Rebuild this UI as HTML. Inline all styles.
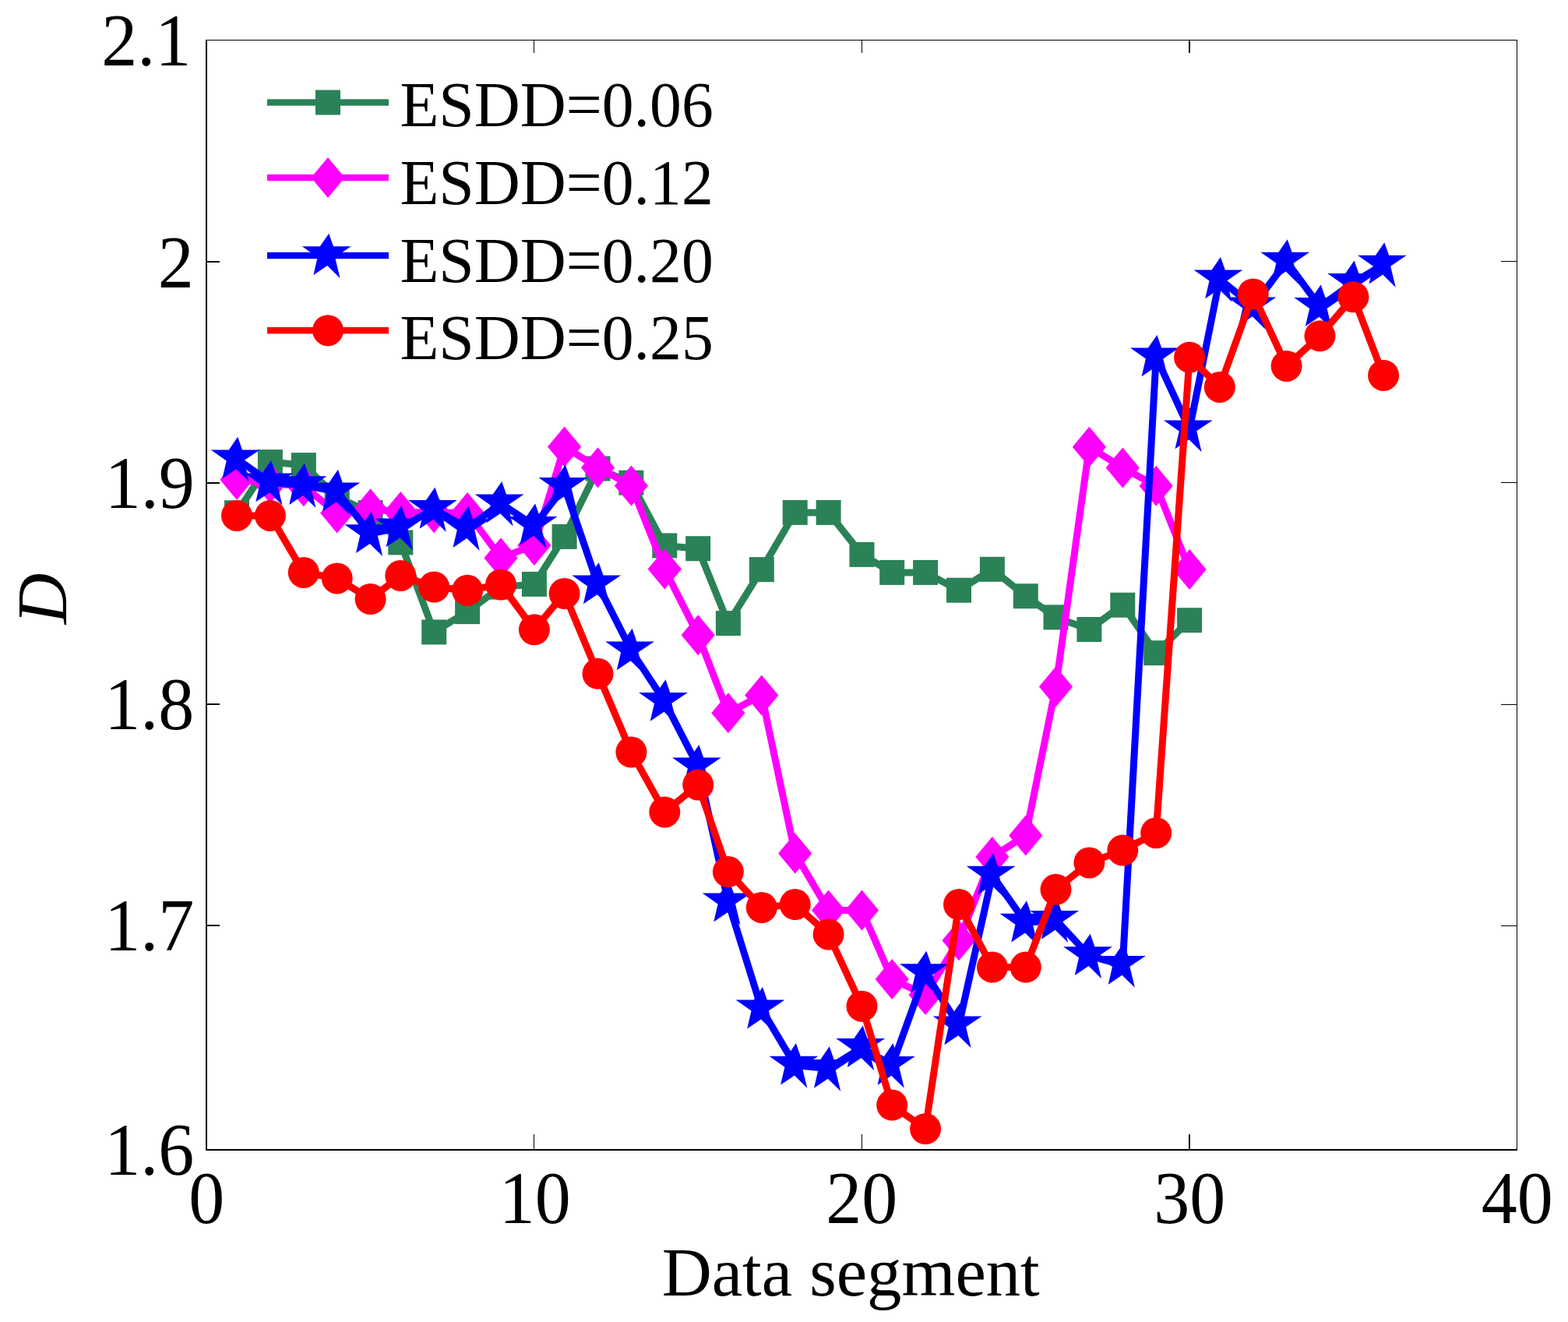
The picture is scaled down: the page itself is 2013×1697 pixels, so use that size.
<!DOCTYPE html>
<html lang="en"><head><meta charset="utf-8"><title>D versus data segment</title>
<style>html,body{margin:0;padding:0;background:#fff}body{width:2013px;height:1697px;overflow:hidden}svg{display:block}text{font-family:"Liberation Serif",serif;fill:#000}</style>
</head><body>
<svg width="2013" height="1697" viewBox="0 0 2013 1697">
<rect x="0" y="0" width="2013" height="1697" fill="#fff"/>
<g fill="#000" shape-rendering="crispEdges">
<rect x="264" y="51" width="2" height="1426"/>
<rect x="264" y="1475" width="1684" height="2"/>
<rect x="264" y="51" width="1684" height="1"/>
<rect x="1947" y="51" width="1" height="1426"/>
<rect x="266" y="335" width="16" height="2"/>
<rect x="1927" y="335" width="20" height="1"/>
<rect x="266" y="619" width="16" height="2"/>
<rect x="1927" y="619" width="20" height="1"/>
<rect x="266" y="903" width="16" height="2"/>
<rect x="1927" y="904" width="20" height="1"/>
<rect x="266" y="1187" width="16" height="2"/>
<rect x="1927" y="1188" width="20" height="1"/>
<rect x="685" y="1456" width="1" height="19"/>
<rect x="685" y="52" width="1" height="16"/>
<rect x="1106" y="1456" width="1" height="19"/>
<rect x="1106" y="52" width="1" height="16"/>
<rect x="1526" y="1456" width="2" height="19"/>
<rect x="1526" y="52" width="2" height="16"/>
</g>
<g font-size="92" text-anchor="end">
<text transform="translate(245.3,83.8) scale(1,1.028)">2.1</text>
<text transform="translate(248.8,368.6) scale(1,1.028)">2</text>
<text transform="translate(249.8,652.4) scale(1,1.028)">1.9</text>
<text transform="translate(249.3,936.1) scale(1,1.028)">1.8</text>
<text transform="translate(249.3,1220.1) scale(1,1.028)">1.7</text>
<text transform="translate(249.3,1508) scale(1,1.028)">1.6</text>
</g>
<g font-size="92" text-anchor="middle">
<text transform="translate(265.3,1570.2) scale(1,1.028)">0</text>
<text transform="translate(686.8,1570.2) scale(1,1.028)">10</text>
<text transform="translate(1106.3,1570.2) scale(1,1.028)">20</text>
<text transform="translate(1527.3,1570.2) scale(1,1.028)">30</text>
<text transform="translate(1947.8,1570.2) scale(1,1.028)">40</text>
</g>
<text x="1092.2" y="1663" font-size="88.7" text-anchor="middle">Data segment</text>
<text transform="translate(85.4,768.4) rotate(-90)" font-size="91" font-style="italic" text-anchor="middle">D</text>
<g>
<polyline fill="none" stroke="#2b8257" stroke-width="9" stroke-linejoin="miter" points="304,658.2 346.9,593.1 389.8,597.1 432.7,638 475.6,658.1 514.3,696.4 557.2,811.4 600.1,785.1 643,753.6 685.9,749.9 724.6,688.9 767.5,601.5 810.4,619.7 853.3,700.4 896.2,704.2 934.9,800.1 977.8,731.1 1020.7,657.9 1063.6,657.9 1106.5,711.9 1145.2,734.9 1188.1,734.9 1231,757.7 1273.9,730.8 1316.8,765.2 1355.5,792.4 1398.4,808 1441.3,776.7 1484.2,838.2 1527.1,796.2"/>
<rect x="288" y="642.2" width="32" height="32" fill="#2b8257"/>
<rect x="330.9" y="577.1" width="32" height="32" fill="#2b8257"/>
<rect x="373.8" y="581.1" width="32" height="32" fill="#2b8257"/>
<rect x="416.7" y="622" width="32" height="32" fill="#2b8257"/>
<rect x="459.6" y="642.1" width="32" height="32" fill="#2b8257"/>
<rect x="498.3" y="680.4" width="32" height="32" fill="#2b8257"/>
<rect x="541.2" y="795.4" width="32" height="32" fill="#2b8257"/>
<rect x="584.1" y="769.1" width="32" height="32" fill="#2b8257"/>
<rect x="627" y="737.6" width="32" height="32" fill="#2b8257"/>
<rect x="669.9" y="733.9" width="32" height="32" fill="#2b8257"/>
<rect x="708.6" y="672.9" width="32" height="32" fill="#2b8257"/>
<rect x="751.5" y="585.5" width="32" height="32" fill="#2b8257"/>
<rect x="794.4" y="603.7" width="32" height="32" fill="#2b8257"/>
<rect x="837.3" y="684.4" width="32" height="32" fill="#2b8257"/>
<rect x="880.2" y="688.2" width="32" height="32" fill="#2b8257"/>
<rect x="918.9" y="784.1" width="32" height="32" fill="#2b8257"/>
<rect x="961.8" y="715.1" width="32" height="32" fill="#2b8257"/>
<rect x="1004.7" y="641.9" width="32" height="32" fill="#2b8257"/>
<rect x="1047.6" y="641.9" width="32" height="32" fill="#2b8257"/>
<rect x="1090.5" y="695.9" width="32" height="32" fill="#2b8257"/>
<rect x="1129.2" y="718.9" width="32" height="32" fill="#2b8257"/>
<rect x="1172.1" y="718.9" width="32" height="32" fill="#2b8257"/>
<rect x="1215" y="741.7" width="32" height="32" fill="#2b8257"/>
<rect x="1257.9" y="714.8" width="32" height="32" fill="#2b8257"/>
<rect x="1300.8" y="749.2" width="32" height="32" fill="#2b8257"/>
<rect x="1339.5" y="776.4" width="32" height="32" fill="#2b8257"/>
<rect x="1382.4" y="792" width="32" height="32" fill="#2b8257"/>
<rect x="1425.3" y="760.7" width="32" height="32" fill="#2b8257"/>
<rect x="1468.2" y="822.2" width="32" height="32" fill="#2b8257"/>
<rect x="1511.1" y="780.2" width="32" height="32" fill="#2b8257"/>
</g>
<g>
<polyline fill="none" stroke="#ff00ff" stroke-width="9" stroke-linejoin="miter" points="304,615.8 346.9,620.3 389.8,624.2 432.7,658.5 475.6,653.2 514.3,657.1 557.2,658.2 600.1,657.9 643,716.2 685.9,699.9 724.6,573.5 767.5,600.2 810.4,623.4 853.3,730.6 896.2,815.3 934.9,915.3 977.8,892.4 1020.7,1095.5 1063.6,1168.4 1106.5,1168.4 1145.2,1257 1188.1,1277 1231,1207.2 1273.9,1099.9 1316.8,1072.4 1355.5,881.6 1398.4,573.7 1441.3,600.4 1484.2,623.7 1527.1,731.1"/>
<polygon points="304,589.8 325.6,615.8 304,641.8 282.4,615.8" fill="#ff00ff"/>
<polygon points="346.9,594.3 368.5,620.3 346.9,646.3 325.3,620.3" fill="#ff00ff"/>
<polygon points="389.8,598.2 411.4,624.2 389.8,650.2 368.2,624.2" fill="#ff00ff"/>
<polygon points="432.7,632.5 454.3,658.5 432.7,684.5 411.1,658.5" fill="#ff00ff"/>
<polygon points="475.6,627.2 497.2,653.2 475.6,679.2 454,653.2" fill="#ff00ff"/>
<polygon points="514.3,631.1 535.9,657.1 514.3,683.1 492.7,657.1" fill="#ff00ff"/>
<polygon points="557.2,632.2 578.8,658.2 557.2,684.2 535.6,658.2" fill="#ff00ff"/>
<polygon points="600.1,631.9 621.7,657.9 600.1,683.9 578.5,657.9" fill="#ff00ff"/>
<polygon points="643,690.2 664.6,716.2 643,742.2 621.4,716.2" fill="#ff00ff"/>
<polygon points="685.9,673.9 707.5,699.9 685.9,725.9 664.3,699.9" fill="#ff00ff"/>
<polygon points="724.6,547.5 746.2,573.5 724.6,599.5 703,573.5" fill="#ff00ff"/>
<polygon points="767.5,574.2 789.1,600.2 767.5,626.2 745.9,600.2" fill="#ff00ff"/>
<polygon points="810.4,597.4 832,623.4 810.4,649.4 788.8,623.4" fill="#ff00ff"/>
<polygon points="853.3,704.6 874.9,730.6 853.3,756.6 831.7,730.6" fill="#ff00ff"/>
<polygon points="896.2,789.3 917.8,815.3 896.2,841.3 874.6,815.3" fill="#ff00ff"/>
<polygon points="934.9,889.3 956.5,915.3 934.9,941.3 913.3,915.3" fill="#ff00ff"/>
<polygon points="977.8,866.4 999.4,892.4 977.8,918.4 956.2,892.4" fill="#ff00ff"/>
<polygon points="1020.7,1069.5 1042.3,1095.5 1020.7,1121.5 999.1,1095.5" fill="#ff00ff"/>
<polygon points="1063.6,1142.4 1085.2,1168.4 1063.6,1194.4 1042,1168.4" fill="#ff00ff"/>
<polygon points="1106.5,1142.4 1128.1,1168.4 1106.5,1194.4 1084.9,1168.4" fill="#ff00ff"/>
<polygon points="1145.2,1231 1166.8,1257 1145.2,1283 1123.6,1257" fill="#ff00ff"/>
<polygon points="1188.1,1251 1209.7,1277 1188.1,1303 1166.5,1277" fill="#ff00ff"/>
<polygon points="1231,1181.2 1252.6,1207.2 1231,1233.2 1209.4,1207.2" fill="#ff00ff"/>
<polygon points="1273.9,1073.9 1295.5,1099.9 1273.9,1125.9 1252.3,1099.9" fill="#ff00ff"/>
<polygon points="1316.8,1046.4 1338.4,1072.4 1316.8,1098.4 1295.2,1072.4" fill="#ff00ff"/>
<polygon points="1355.5,855.6 1377.1,881.6 1355.5,907.6 1333.9,881.6" fill="#ff00ff"/>
<polygon points="1398.4,547.7 1420,573.7 1398.4,599.7 1376.8,573.7" fill="#ff00ff"/>
<polygon points="1441.3,574.4 1462.9,600.4 1441.3,626.4 1419.7,600.4" fill="#ff00ff"/>
<polygon points="1484.2,597.7 1505.8,623.7 1484.2,649.7 1462.6,623.7" fill="#ff00ff"/>
<polygon points="1527.1,705.1 1548.7,731.1 1527.1,757.1 1505.5,731.1" fill="#ff00ff"/>
</g>
<g>
<polyline fill="none" stroke="#0000ff" stroke-width="9" stroke-linejoin="miter" points="304,589.1 346.9,619.2 389.8,622.9 432.7,631.1 475.6,684.9 514.3,677.2 557.2,653.7 600.1,677.9 643,646.2 685.9,674.7 724.6,624.7 767.5,750.2 810.4,835.1 853.3,900.6 896.2,984.2 934.9,1158.1 977.8,1295.3 1020.7,1367.5 1063.6,1371.6 1106.5,1344.8 1145.2,1367.6 1188.1,1249 1231,1316.1 1273.9,1123.4 1316.8,1184.5 1355.5,1180.7 1398.4,1227 1441.3,1238.6 1484.2,458.2 1527.1,551.1 1565.8,358.2 1608.7,393.2 1651.6,335.5 1694.5,393.7 1737.4,362.7 1776.1,339.5"/>
<polygon points="305.2,560.8 311,577.4 333.6,577.4 313.1,591.3 319.6,618.3 303.2,602.2 285.4,614.2 290.7,591.4 270.8,577.4 293.8,577.4" fill="#0000ff"/>
<polygon points="348.1,590.9 353.9,607.5 376.5,607.5 356,621.4 362.5,648.4 346.1,632.3 328.3,644.3 333.6,621.5 313.7,607.5 336.7,607.5" fill="#0000ff"/>
<polygon points="391,594.6 396.8,611.2 419.4,611.2 398.9,625.1 405.4,652.1 389,636 371.2,648 376.5,625.2 356.6,611.2 379.6,611.2" fill="#0000ff"/>
<polygon points="433.9,602.8 439.7,619.4 462.3,619.4 441.8,633.3 448.3,660.3 431.9,644.2 414.1,656.2 419.4,633.4 399.5,619.4 422.5,619.4" fill="#0000ff"/>
<polygon points="476.8,656.6 482.6,673.2 505.2,673.2 484.7,687.1 491.2,714.1 474.8,698 457,710 462.3,687.2 442.4,673.2 465.4,673.2" fill="#0000ff"/>
<polygon points="515.5,648.9 521.3,665.5 543.9,665.5 523.4,679.4 529.9,706.4 513.5,690.3 495.7,702.3 501,679.5 481.1,665.5 504.1,665.5" fill="#0000ff"/>
<polygon points="558.4,625.4 564.2,642 586.8,642 566.3,655.9 572.8,682.9 556.4,666.8 538.6,678.8 543.9,656 524,642 547,642" fill="#0000ff"/>
<polygon points="601.3,649.6 607.1,666.2 629.7,666.2 609.2,680.1 615.7,707.1 599.3,691 581.5,703 586.8,680.2 566.9,666.2 589.9,666.2" fill="#0000ff"/>
<polygon points="644.2,617.9 650,634.5 672.6,634.5 652.1,648.4 658.6,675.4 642.2,659.3 624.4,671.3 629.7,648.5 609.8,634.5 632.8,634.5" fill="#0000ff"/>
<polygon points="687.1,646.4 692.9,663 715.5,663 695,676.9 701.5,703.9 685.1,687.8 667.3,699.8 672.6,677 652.7,663 675.7,663" fill="#0000ff"/>
<polygon points="725.8,596.4 731.6,613 754.2,613 733.7,626.9 740.2,653.9 723.8,637.8 706,649.8 711.3,627 691.4,613 714.4,613" fill="#0000ff"/>
<polygon points="768.7,721.9 774.5,738.5 797.1,738.5 776.6,752.4 783.1,779.4 766.7,763.3 748.9,775.3 754.2,752.5 734.3,738.5 757.3,738.5" fill="#0000ff"/>
<polygon points="811.6,806.8 817.4,823.4 840,823.4 819.5,837.3 826,864.3 809.6,848.2 791.8,860.2 797.1,837.4 777.2,823.4 800.2,823.4" fill="#0000ff"/>
<polygon points="854.5,872.3 860.3,888.9 882.9,888.9 862.4,902.8 868.9,929.8 852.5,913.7 834.7,925.7 840,902.9 820.1,888.9 843.1,888.9" fill="#0000ff"/>
<polygon points="897.4,955.9 903.2,972.5 925.8,972.5 905.3,986.4 911.8,1013.4 895.4,997.3 877.6,1009.3 882.9,986.5 863,972.5 886,972.5" fill="#0000ff"/>
<polygon points="936.1,1129.8 941.9,1146.4 964.5,1146.4 944,1160.3 950.5,1187.3 934.1,1171.2 916.3,1183.2 921.6,1160.4 901.7,1146.4 924.7,1146.4" fill="#0000ff"/>
<polygon points="979,1267 984.8,1283.6 1007.4,1283.6 986.9,1297.5 993.4,1324.5 977,1308.4 959.2,1320.4 964.5,1297.6 944.6,1283.6 967.6,1283.6" fill="#0000ff"/>
<polygon points="1021.9,1339.2 1027.7,1355.8 1050.3,1355.8 1029.8,1369.7 1036.3,1396.7 1019.9,1380.6 1002.1,1392.6 1007.4,1369.8 987.5,1355.8 1010.5,1355.8" fill="#0000ff"/>
<polygon points="1064.8,1343.3 1070.6,1359.9 1093.2,1359.9 1072.7,1373.8 1079.2,1400.8 1062.8,1384.7 1045,1396.7 1050.3,1373.9 1030.4,1359.9 1053.4,1359.9" fill="#0000ff"/>
<polygon points="1107.7,1316.5 1113.5,1333.1 1136.1,1333.1 1115.6,1347 1122.1,1374 1105.7,1357.9 1087.9,1369.9 1093.2,1347.1 1073.3,1333.1 1096.3,1333.1" fill="#0000ff"/>
<polygon points="1146.4,1339.3 1152.2,1355.9 1174.8,1355.9 1154.3,1369.8 1160.8,1396.8 1144.4,1380.7 1126.6,1392.7 1131.9,1369.9 1112,1355.9 1135,1355.9" fill="#0000ff"/>
<polygon points="1189.3,1220.7 1195.1,1237.3 1217.7,1237.3 1197.2,1251.2 1203.7,1278.2 1187.3,1262.1 1169.5,1274.1 1174.8,1251.3 1154.9,1237.3 1177.9,1237.3" fill="#0000ff"/>
<polygon points="1232.2,1287.8 1238,1304.4 1260.6,1304.4 1240.1,1318.3 1246.6,1345.3 1230.2,1329.2 1212.4,1341.2 1217.7,1318.4 1197.8,1304.4 1220.8,1304.4" fill="#0000ff"/>
<polygon points="1275.1,1095.1 1280.9,1111.7 1303.5,1111.7 1283,1125.6 1289.5,1152.6 1273.1,1136.5 1255.3,1148.5 1260.6,1125.7 1240.7,1111.7 1263.7,1111.7" fill="#0000ff"/>
<polygon points="1318,1156.2 1323.8,1172.8 1346.4,1172.8 1325.9,1186.7 1332.4,1213.7 1316,1197.6 1298.2,1209.6 1303.5,1186.8 1283.6,1172.8 1306.6,1172.8" fill="#0000ff"/>
<polygon points="1356.7,1152.4 1362.5,1169 1385.1,1169 1364.6,1182.9 1371.1,1209.9 1354.7,1193.8 1336.9,1205.8 1342.2,1183 1322.3,1169 1345.3,1169" fill="#0000ff"/>
<polygon points="1399.6,1198.7 1405.4,1215.3 1428,1215.3 1407.5,1229.2 1414,1256.2 1397.6,1240.1 1379.8,1252.1 1385.1,1229.3 1365.2,1215.3 1388.2,1215.3" fill="#0000ff"/>
<polygon points="1442.5,1210.3 1448.3,1226.9 1470.9,1226.9 1450.4,1240.8 1456.9,1267.8 1440.5,1251.7 1422.7,1263.7 1428,1240.9 1408.1,1226.9 1431.1,1226.9" fill="#0000ff"/>
<polygon points="1485.4,429.9 1491.2,446.5 1513.8,446.5 1493.3,460.4 1499.8,487.4 1483.4,471.3 1465.6,483.3 1470.9,460.5 1451,446.5 1474,446.5" fill="#0000ff"/>
<polygon points="1528.3,522.8 1534.1,539.4 1556.7,539.4 1536.2,553.3 1542.7,580.3 1526.3,564.2 1508.5,576.2 1513.8,553.4 1493.9,539.4 1516.9,539.4" fill="#0000ff"/>
<polygon points="1567,329.9 1572.8,346.5 1595.4,346.5 1574.9,360.4 1581.4,387.4 1565,371.3 1547.2,383.3 1552.5,360.5 1532.6,346.5 1555.6,346.5" fill="#0000ff"/>
<polygon points="1609.9,364.9 1615.7,381.5 1638.3,381.5 1617.8,395.4 1624.3,422.4 1607.9,406.3 1590.1,418.3 1595.4,395.5 1575.5,381.5 1598.5,381.5" fill="#0000ff"/>
<polygon points="1652.8,307.2 1658.6,323.8 1681.2,323.8 1660.7,337.7 1667.2,364.7 1650.8,348.6 1633,360.6 1638.3,337.8 1618.4,323.8 1641.4,323.8" fill="#0000ff"/>
<polygon points="1695.7,365.4 1701.5,382 1724.1,382 1703.6,395.9 1710.1,422.9 1693.7,406.8 1675.9,418.8 1681.2,396 1661.3,382 1684.3,382" fill="#0000ff"/>
<polygon points="1738.6,334.4 1744.4,351 1767,351 1746.5,364.9 1753,391.9 1736.6,375.8 1718.8,387.8 1724.1,365 1704.2,351 1727.2,351" fill="#0000ff"/>
<polygon points="1777.3,311.2 1783.1,327.8 1805.7,327.8 1785.2,341.7 1791.7,368.7 1775.3,352.6 1757.5,364.6 1762.8,341.8 1742.9,327.8 1765.9,327.8" fill="#0000ff"/>
</g>
<g>
<polyline fill="none" stroke="#ff0000" stroke-width="9" stroke-linejoin="miter" points="304,661.9 346.9,661.9 389.8,734.9 432.7,742.4 475.6,769.1 514.3,738.9 557.2,753.6 600.1,757.8 643,750.4 685.9,808.3 724.6,761.9 767.5,864.8 810.4,965.5 853.3,1042.4 896.2,1007.4 934.9,1119.1 977.8,1164.9 1020.7,1161.1 1063.6,1199.4 1106.5,1291.7 1145.2,1418.6 1188.1,1449.1 1231,1161.1 1273.9,1241.6 1316.8,1241.6 1355.5,1141.8 1398.4,1107.4 1441.3,1091.6 1484.2,1069.2 1527.1,458.7 1565.8,496.9 1608.7,377.5 1651.6,469.9 1694.5,431.2 1737.4,381.2 1776.1,481.9"/>
<circle cx="304" cy="661.9" r="20" fill="#ff0000"/>
<circle cx="346.9" cy="661.9" r="20" fill="#ff0000"/>
<circle cx="389.8" cy="734.9" r="20" fill="#ff0000"/>
<circle cx="432.7" cy="742.4" r="20" fill="#ff0000"/>
<circle cx="475.6" cy="769.1" r="20" fill="#ff0000"/>
<circle cx="514.3" cy="738.9" r="20" fill="#ff0000"/>
<circle cx="557.2" cy="753.6" r="20" fill="#ff0000"/>
<circle cx="600.1" cy="757.8" r="20" fill="#ff0000"/>
<circle cx="643" cy="750.4" r="20" fill="#ff0000"/>
<circle cx="685.9" cy="808.3" r="20" fill="#ff0000"/>
<circle cx="724.6" cy="761.9" r="20" fill="#ff0000"/>
<circle cx="767.5" cy="864.8" r="20" fill="#ff0000"/>
<circle cx="810.4" cy="965.5" r="20" fill="#ff0000"/>
<circle cx="853.3" cy="1042.4" r="20" fill="#ff0000"/>
<circle cx="896.2" cy="1007.4" r="20" fill="#ff0000"/>
<circle cx="934.9" cy="1119.1" r="20" fill="#ff0000"/>
<circle cx="977.8" cy="1164.9" r="20" fill="#ff0000"/>
<circle cx="1020.7" cy="1161.1" r="20" fill="#ff0000"/>
<circle cx="1063.6" cy="1199.4" r="20" fill="#ff0000"/>
<circle cx="1106.5" cy="1291.7" r="20" fill="#ff0000"/>
<circle cx="1145.2" cy="1418.6" r="20" fill="#ff0000"/>
<circle cx="1188.1" cy="1449.1" r="20" fill="#ff0000"/>
<circle cx="1231" cy="1161.1" r="20" fill="#ff0000"/>
<circle cx="1273.9" cy="1241.6" r="20" fill="#ff0000"/>
<circle cx="1316.8" cy="1241.6" r="20" fill="#ff0000"/>
<circle cx="1355.5" cy="1141.8" r="20" fill="#ff0000"/>
<circle cx="1398.4" cy="1107.4" r="20" fill="#ff0000"/>
<circle cx="1441.3" cy="1091.6" r="20" fill="#ff0000"/>
<circle cx="1484.2" cy="1069.2" r="20" fill="#ff0000"/>
<circle cx="1527.1" cy="458.7" r="20" fill="#ff0000"/>
<circle cx="1565.8" cy="496.9" r="20" fill="#ff0000"/>
<circle cx="1608.7" cy="377.5" r="20" fill="#ff0000"/>
<circle cx="1651.6" cy="469.9" r="20" fill="#ff0000"/>
<circle cx="1694.5" cy="431.2" r="20" fill="#ff0000"/>
<circle cx="1737.4" cy="381.2" r="20" fill="#ff0000"/>
<circle cx="1776.1" cy="481.9" r="20" fill="#ff0000"/>
</g>
<g>
<rect x="343" y="127.3" width="156" height="8.4" fill="#2b8257"/>
<rect x="405" y="115.5" width="32" height="32" fill="#2b8257"/>
<text x="513.4" y="161.6" font-size="81.7">ESDD=0.06</text>
<rect x="343" y="223.8" width="156" height="8.4" fill="#ff00ff"/>
<polygon points="421,202 442.6,228 421,254 399.4,228" fill="#ff00ff"/>
<text x="513.4" y="262.2" font-size="81.7">ESDD=0.12</text>
<rect x="343" y="323.8" width="156" height="8.4" fill="#0000ff"/>
<polygon points="422.2,299.7 428,316.3 450.6,316.3 430.1,330.2 436.6,357.2 420.2,341.1 402.4,353.1 407.7,330.3 387.8,316.3 410.8,316.3" fill="#0000ff"/>
<text x="513.4" y="362.2" font-size="81.7">ESDD=0.20</text>
<rect x="343" y="420" width="156" height="8.4" fill="#ff0000"/>
<circle cx="421" cy="424.2" r="20" fill="#ff0000"/>
<text x="513.4" y="461.4" font-size="81.7">ESDD=0.25</text>
</g>
</svg>
</body></html>
